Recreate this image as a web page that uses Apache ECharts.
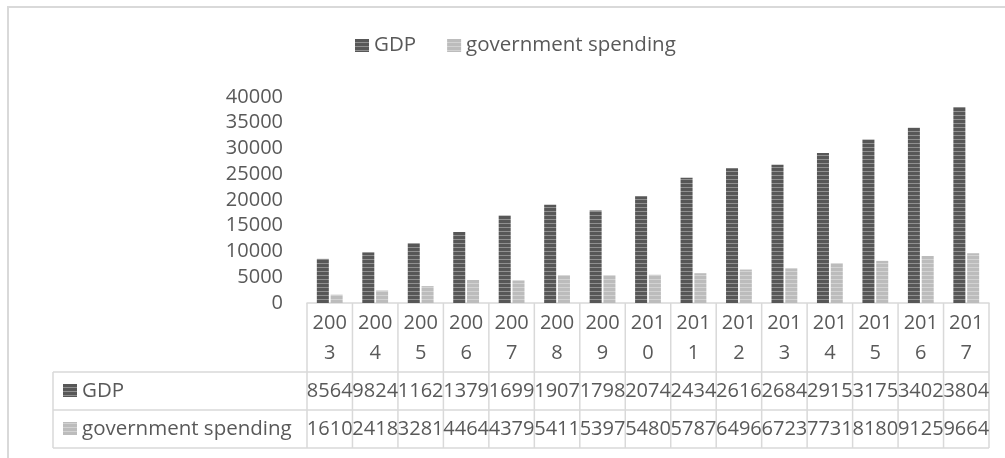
<!DOCTYPE html>
<html>
<head>
<meta charset="utf-8">
<script src="https://cdn.jsdelivr.net/npm/echarts@6/dist/echarts.min.js"></script>
<style>
html,body{margin:0;padding:0;background:#fff;}
#c{width:1005px;height:458px;}
</style>
</head>
<body>
<div id="c"></div>
<script>
const years = ['2003','2004','2005','2006','2007','2008','2009','2010','2011','2012','2013','2014','2015','2016','2017'];
const gdp = [8564, 9824, 11620, 13790, 16990, 19070, 17980, 20740, 24340, 26160, 26840, 29150, 31750, 34020, 38040];
const govSpending = [1610, 2418, 3281, 4464, 4379, 5411, 5397, 5480, 5787, 6496, 6723, 7731, 8180, 9125, 9664];
const seriesNames = ['GDP', 'government spending'];
const yTicks = {min: 0, max: 40000, interval: 5000};

// layout
const W = 1005, H = 458;
const GL = 307, GR = 989, GT = 97, GB = 303;
const TABLE_LEFT = 53, ROW1 = 372, ROW2 = 410, ROW3 = 448;
const FONT = '"Open Sans", "Noto Sans", sans-serif';
const TXT = '#595959';
const LINE = '#d9d9d9';

function stripes(dark, light, period, darkRows) {
  const cv = document.createElement('canvas');
  cv.width = 4; cv.height = period;
  const ctx = cv.getContext('2d');
  ctx.fillStyle = light; ctx.fillRect(0, 0, 4, period);
  ctx.fillStyle = dark; ctx.fillRect(0, 0, 4, darkRows);
  return cv;
}
const gdpFill = {image: stripes('#575757', '#909090', 4, 3), repeat: 'repeat'};
const govFill = {image: stripes('#bcbcbc', '#d2d2d2', 4, 3), repeat: 'repeat'};

const chart = echarts.init(document.getElementById('c'), null, {renderer: 'canvas'});

const nCols = years.length;
const colW = (GR - GL) / nCols;
const graphics = [];
// outer chart frame (clipped on right/bottom)
graphics.push({type: 'polyline', shape: {points: [[8, H + 5], [8, 7], [W + 5, 7]]}, style: {stroke: LINE, lineWidth: 2, fill: null}, silent: true});
// table horizontal lines
[ROW1, ROW2, ROW3].forEach(y => {
  graphics.push({type: 'line', shape: {x1: TABLE_LEFT, y1: y, x2: GR, y2: y}, style: {stroke: LINE, lineWidth: 1.5}, silent: true});
});
graphics.push({type: 'line', shape: {x1: TABLE_LEFT, y1: ROW1, x2: TABLE_LEFT, y2: ROW3}, style: {stroke: LINE, lineWidth: 1.5}, silent: true});
for (let i = 0; i <= nCols; i++) {
  const x = GL + i * colW;
  graphics.push({type: 'line', shape: {x1: x, y1: GB, x2: x, y2: ROW3}, style: {stroke: LINE, lineWidth: 1.5}, silent: true});
}
// row headers
[[gdpFill, seriesNames[0], (ROW1 + ROW2) / 2], [govFill, seriesNames[1], (ROW2 + ROW3) / 2]].forEach(([fill, name, cy]) => {
  graphics.push({type: 'rect', shape: {x: 63, y: cy - 7, width: 14, height: 13}, style: {fill: fill}, silent: true});
  graphics.push({type: 'text', x: 82, y: cy, style: {text: name, font: '20.5px ' + FONT, fill: TXT, verticalAlign: 'middle', align: 'left'}, silent: true});
});

const valueLabel = (arr, margin) => ({
  show: true, interval: 0, margin: margin, color: TXT, fontFamily: FONT, fontSize: 20, lineHeight: 20,
  overflow: 'truncate', width: 50, ellipsis: '',
  formatter: (v, idx) => String(arr[idx])
});

chart.setOption({
  animation: false,
  backgroundColor: '#fff',
  textStyle: {fontFamily: FONT},
  legend: {
    left: 355, top: 35, padding: 0,
    itemWidth: 14, itemHeight: 13, itemGap: 31,
    icon: 'rect',
    textStyle: {color: TXT, fontSize: 20.5, fontFamily: FONT},
    data: seriesNames
  },
  grid: {left: GL, right: W - GR, top: GT, bottom: H - GB, containLabel: false},
  xAxis: [
    {
      type: 'category', data: years, position: 'bottom', gridIndex: 0,
      axisLine: {show: true, lineStyle: {color: LINE, width: 1.5}},
      axisTick: {show: false},
      axisLabel: {interval: 0, margin: 5, color: TXT, fontFamily: FONT, fontSize: 20, lineHeight: 30, overflow: 'breakAll', width: 44}
    },
    {
      type: 'category', data: years, position: 'bottom', offset: 0, gridIndex: 0,
      axisLine: {show: false}, axisTick: {show: false},
      axisLabel: valueLabel(gdp, 78)
    },
    {
      type: 'category', data: years, position: 'bottom', offset: 0, gridIndex: 0,
      axisLine: {show: false}, axisTick: {show: false},
      axisLabel: valueLabel(govSpending, 116)
    }
  ],
  yAxis: {
    type: 'value', min: yTicks.min, max: yTicks.max, interval: yTicks.interval,
    axisLine: {show: false}, axisTick: {show: false}, splitLine: {show: false},
    axisLabel: {color: TXT, fontFamily: FONT, fontSize: 20, margin: 24, formatter: v => String(v)}
  },
  series: [
    {name: seriesNames[0], type: 'bar', xAxisIndex: 0, data: gdp, barWidth: 12, barGap: '15%', itemStyle: {color: gdpFill}},
    {name: seriesNames[1], type: 'bar', xAxisIndex: 0, data: govSpending, barWidth: 12, barGap: '15%', itemStyle: {color: govFill}}
  ],
  graphic: graphics
});
</script>
</body>
</html>
